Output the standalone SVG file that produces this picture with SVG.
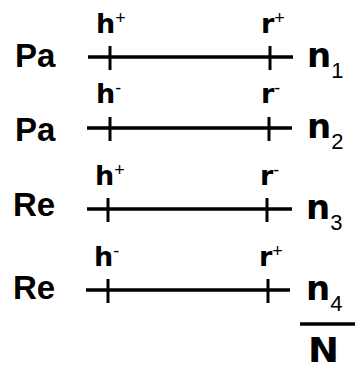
<svg xmlns="http://www.w3.org/2000/svg" width="355" height="371" viewBox="0 0 355 371">
<style>
.big{font-family:"Liberation Sans",Arial,sans-serif;font-weight:bold;font-size:33px;fill:#000}
.nn{font-family:"DejaVu Sans",sans-serif;font-weight:bold;font-size:34px;fill:#000}
.lab{font-family:"DejaVu Sans",sans-serif;font-weight:bold;font-size:27px;fill:#000}
.sup{font-family:"Liberation Sans",Arial,sans-serif;font-weight:normal;font-size:18px;fill:#000}
.sub{font-family:"Liberation Sans",Arial,sans-serif;font-weight:normal;font-size:22px;fill:#000}
.ln{stroke:#000;stroke-width:3.5;fill:none}
.tk{stroke:#000;stroke-width:3;fill:none}
</style>
<g id="connectors">
<path class="ln" d="M88 57H293M87 128H292M87 209H292M86 290H290"/>
<path class="tk" d="M110 46V70M270 46V70M110 117V141M269 117V141M108 198V222M267 198V222M108 279V303M268 279V303"/>
<path class="ln" d="M300 324H355"/>
</g>
<g id="row1">
<text class="big" x="15" y="67">Pa</text>
<text class="lab" x="96" y="33">h<tspan class="sup" dy="-9">+</tspan></text>
<text class="lab" x="261" y="33">r<tspan class="sup" dy="-9">+</tspan></text>
<text class="nn" x="307" y="67">n<tspan class="sub" dy="11">1</tspan></text>
</g>
<g id="row2">
<text class="big" x="15" y="141">Pa</text>
<text class="lab" x="96" y="103">h<tspan class="sup" dy="-9">-</tspan></text>
<text class="lab" x="261" y="103">r<tspan class="sup" dy="-9">-</tspan></text>
<text class="nn" x="307" y="138">n<tspan class="sub" dy="11">2</tspan></text>
</g>
<g id="row3">
<text class="big" x="13" y="216">Re</text>
<text class="lab" x="95" y="185">h<tspan class="sup" dy="-9">+</tspan></text>
<text class="lab" x="260" y="185">r<tspan class="sup" dy="-9">-</tspan></text>
<text class="nn" x="306" y="219">n<tspan class="sub" dy="11">3</tspan></text>
</g>
<g id="row4">
<text class="big" x="13" y="299">Re</text>
<text class="lab" x="94" y="266">h<tspan class="sup" dy="-9">-</tspan></text>
<text class="lab" x="259" y="266">r<tspan class="sup" dy="-9">+</tspan></text>
<text class="nn" x="306" y="300">n<tspan class="sub" dy="11">4</tspan></text>
</g>
<g id="total">
<text class="nn" x="308" y="362" textLength="31" lengthAdjust="spacingAndGlyphs">N</text>
</g>
</svg>
